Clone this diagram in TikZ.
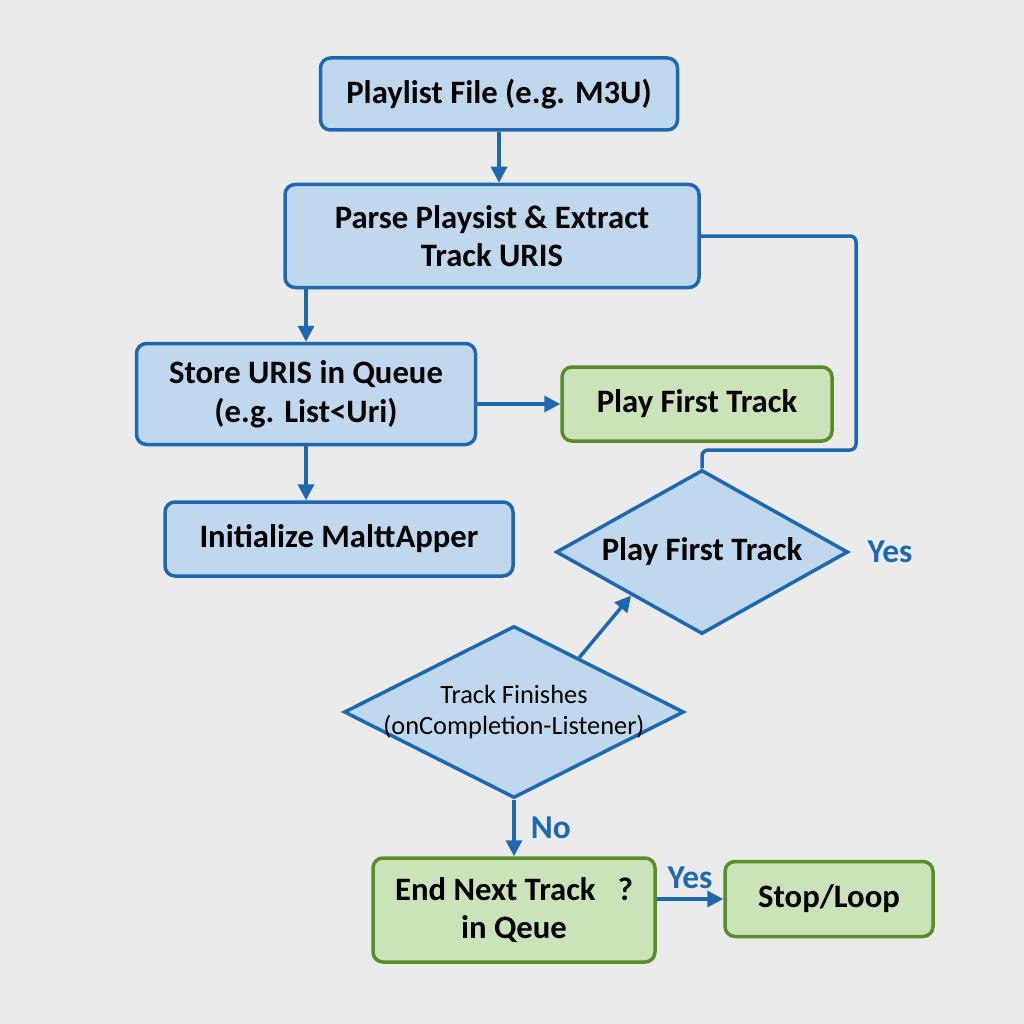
\documentclass[tikz,border=0pt]{standalone}
\usepackage{fontspec}
\setmainfont{Carlito}
\usetikzlibrary{positioning, arrows.meta, calc, shapes.geometric}

\begin{document}
\begin{tikzpicture}[
    x=0.1mm,
    y=-0.1mm,
    font=\fontsize{9.3}{11}\selectfont\bfseries,
    box/.style={draw=colBlueLine, fill=colBlue, line width=0.35mm, rounded corners=1mm,
        align=center, inner sep=1pt},
    gbox/.style={box, draw=colGreenLine, fill=colGreen},
    decision/.style={diamond, draw=colBlueLine, fill=colBlue, line width=0.35mm,
        align=center, inner sep=0pt, aspect=2},
    arr/.style={-{Triangle[length=1.6mm, width=1.6mm]}, draw=colBlueLine, line width=0.35mm},
    lnk/.style={draw=colBlueLine, line width=0.35mm, rounded corners=0.6mm},
    lbl/.style={text=colBlueLine, font=\fontsize{9.5}{11}\selectfont\bfseries}
]

\definecolor{colBlue}{HTML}{BFD8EE}
\definecolor{colBlueLine}{HTML}{1E68B2}
\definecolor{colGreen}{HTML}{CAE3B8}
\definecolor{colGreenLine}{HTML}{5A8C28}
\definecolor{colBg}{HTML}{EBEBEB}

\fill[colBg] (0,0) rectangle (1024,1024);

% left column of process boxes
\node[box, minimum width=35.7mm, minimum height=7.2mm] (playlist) at (499,94) {Playlist File (e.g. M3U)};
\node[box, minimum width=41.4mm, minimum height=10.3mm] (parse) at (492,236) {Parse Playsist \& Extract\\Track URIS};
\node[box, minimum width=33.9mm, minimum height=10.1mm] (store) at (306,394) {Store URIS in Queue\\(e.g. List<Uri)};
\node[box, minimum width=34.8mm, minimum height=7.4mm] (init) at (339,539) {Initialize MalttApper};
\node[gbox, minimum width=27mm, minimum height=7.4mm] (play) at (697,404) {Play First Track};

% decisions
\node[decision, minimum width=29.2mm, minimum height=16.4mm] (pft) at (702,552) {Play First Track};
\node[decision, minimum width=34mm, minimum height=17.2mm, inner sep=-1.5mm, font=\fontsize{7.5}{9}\selectfont] (tf) at (514,712)
    {Track Finishes\\(onCompletion-Listener)};

\node[gbox, minimum width=28.2mm, minimum height=10.4mm] (endq) at (514,910) {End Next Track~~~?\\in Qeue};
\node[gbox, minimum width=20.8mm, minimum height=7.5mm] (stop) at (829,899) {Stop/Loop};

\node[lbl] (yes1) at (890,552) {Yes};

\coordinate (loopR) at (856,450);

\draw[arr] (playlist.south) -- (playlist.south |- parse.north);
\draw[arr] (parse.south -| store.north) -- (store.north);
\draw[arr] (store.south) -- (store.south |- init.north);
\draw[arr] (store.east |- play.west) -- (play.west);
\draw[lnk] (parse.east) -| (loopR) -| (pft.north);
\draw[arr] ($(tf.north)!0.38!(tf.east)$) -- ($(pft.south)!0.48!(pft.west)$);
\draw[arr] (tf.south) -- (endq.north) node[lbl, midway, right=1pt] (no) {No};
\draw[arr] (endq.east |- stop.west) -- (stop.west) node[lbl, midway, above=-1pt] (yes2) {Yes};

\end{tikzpicture}
\end{document}
